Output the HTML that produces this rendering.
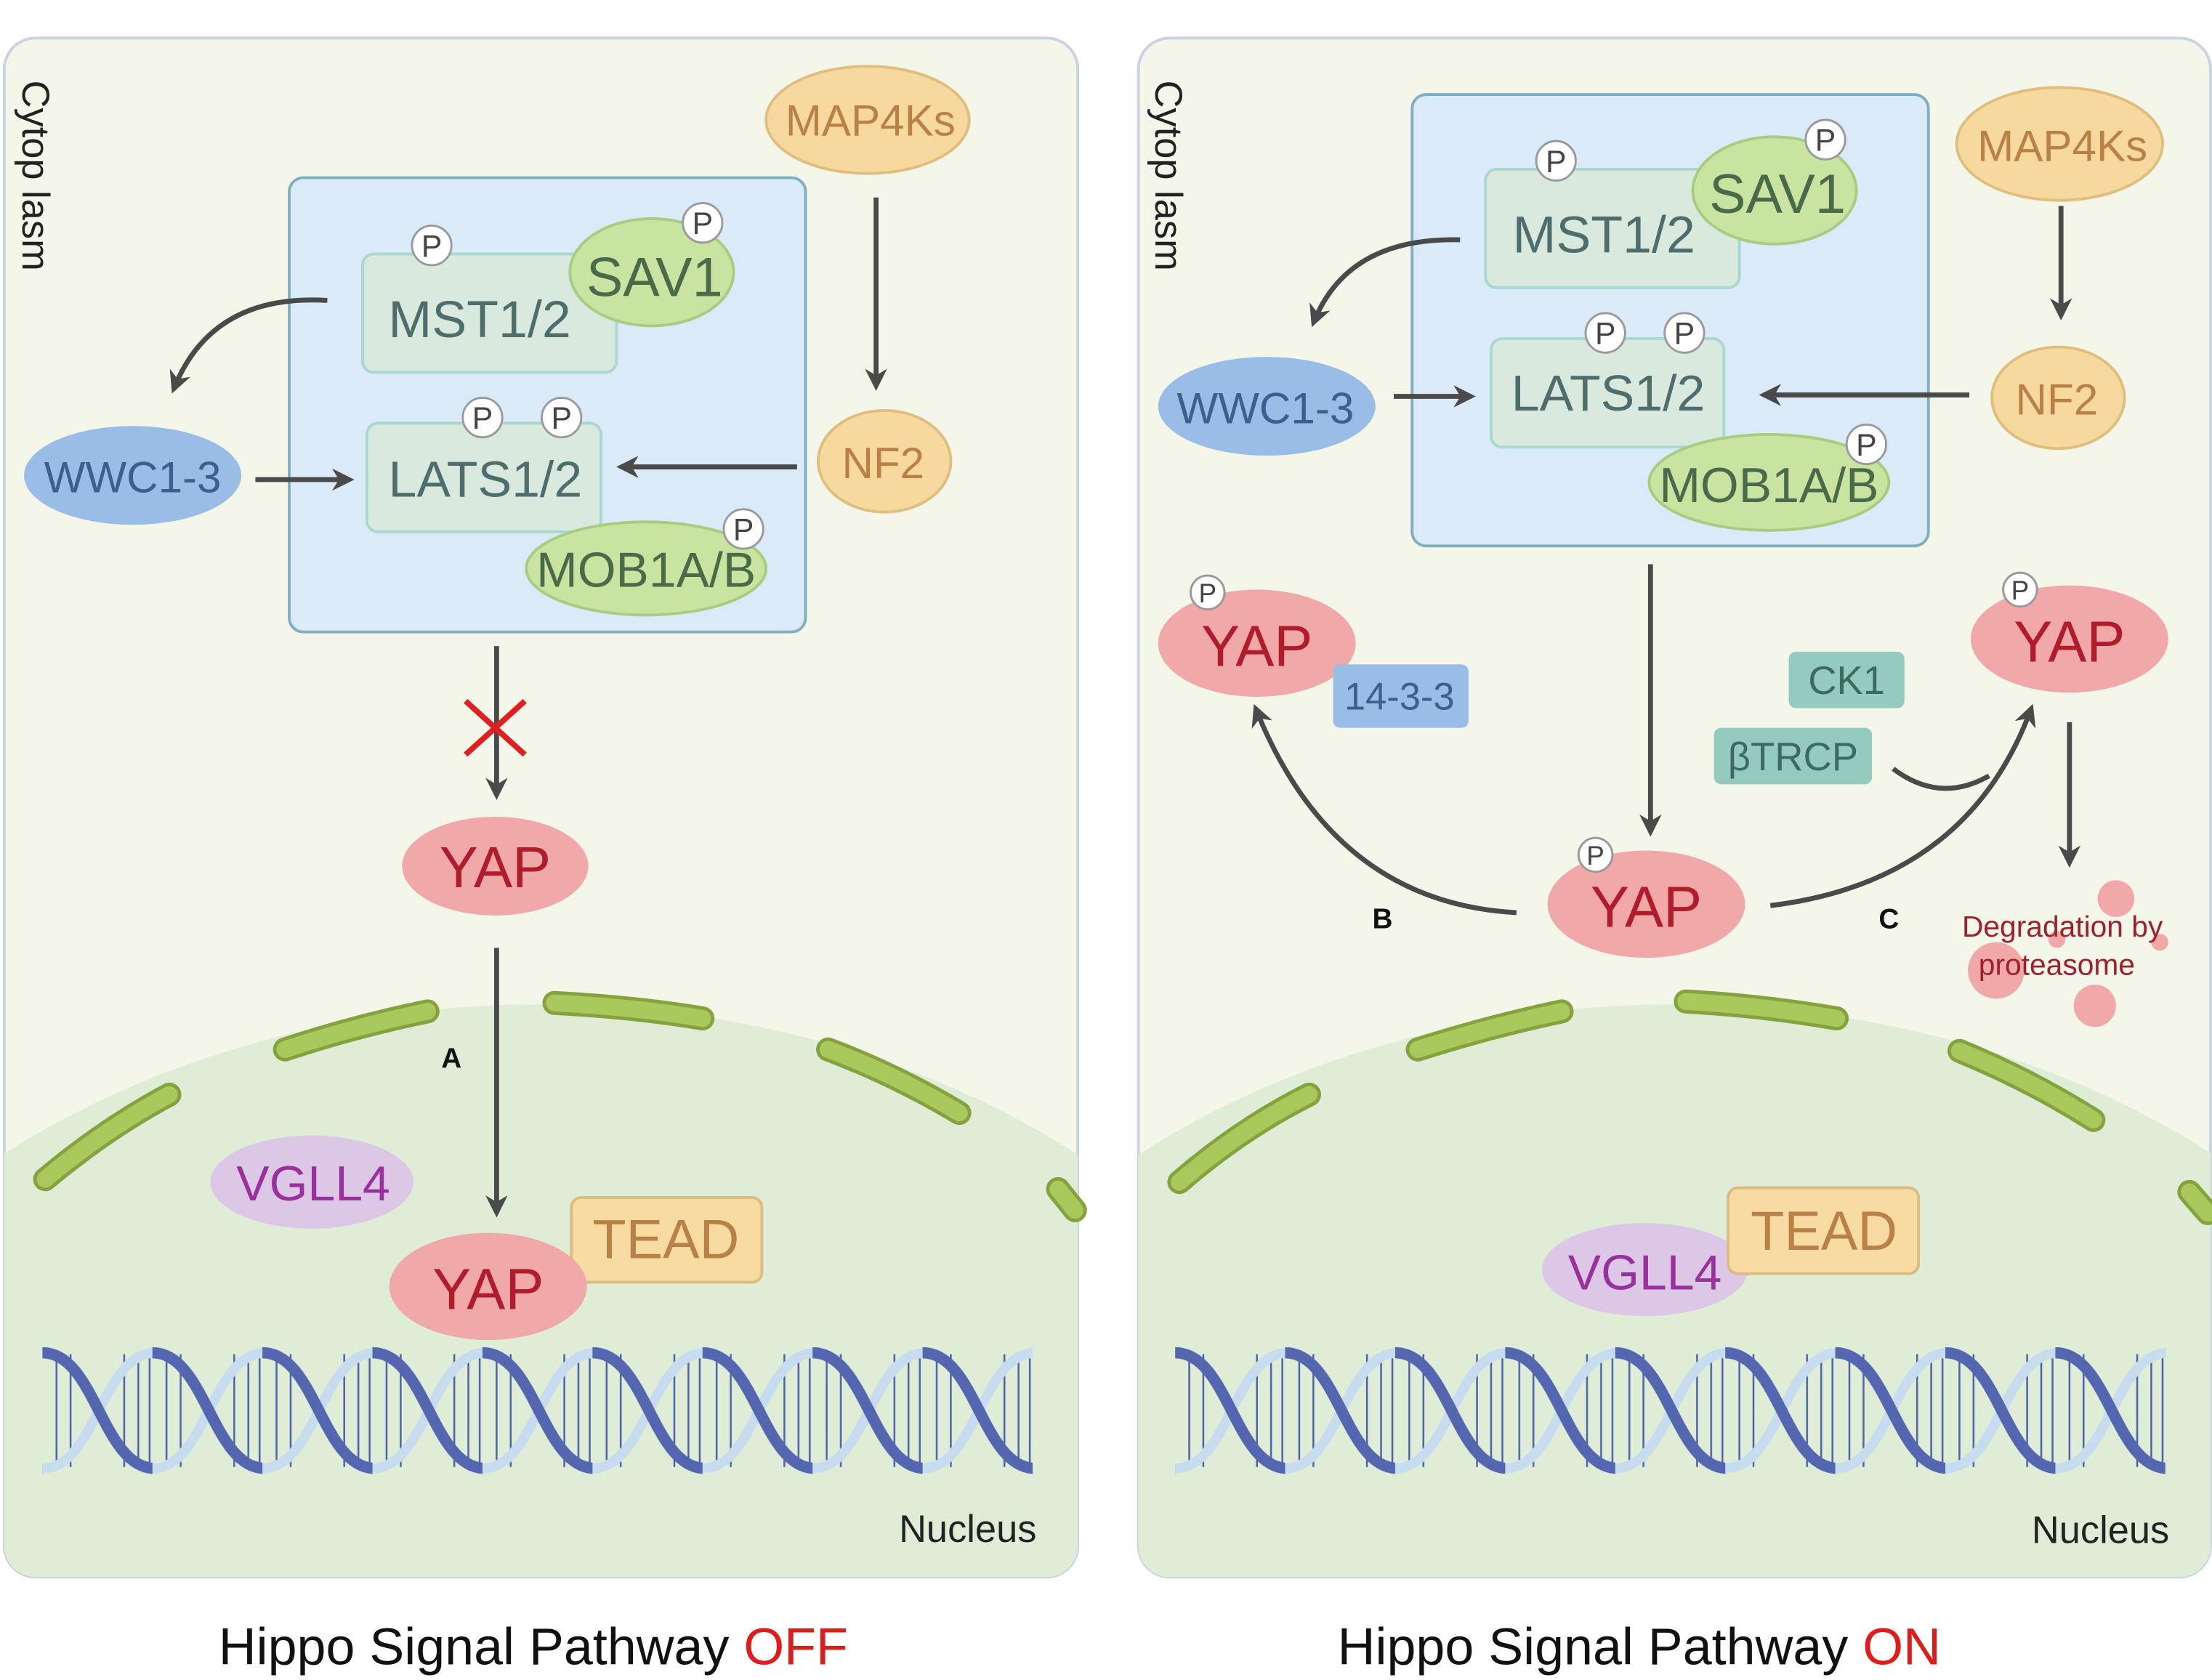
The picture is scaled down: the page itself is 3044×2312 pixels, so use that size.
<!DOCTYPE html>
<html><head><meta charset="utf-8"><style>html,body{margin:0;padding:0;background:#fff;overflow:hidden;width:3044px;height:2312px}svg{display:block}text{font-family:"Liberation Sans",sans-serif}</style></head><body>
<svg width="3044" height="2312" viewBox="0 0 1568 1191" xmlns="http://www.w3.org/2000/svg">
<defs>
<marker id="ah" viewBox="0 0 10 10" refX="8" refY="5" markerWidth="4.5" markerHeight="4.5" orient="auto-start-reverse"><path d="M0,0 L10,5 L0,10 L3,5z" fill="#4a4a4a"/></marker>
<clipPath id="cl"><rect x="3" y="27" width="761" height="1091" rx="22"/></clipPath>
<clipPath id="cr"><rect x="807" y="27" width="760" height="1091" rx="22"/></clipPath>
<g id="dnaunit">
<g stroke="#4f62ad" stroke-width="1.3"><line x1="10" y1="8" x2="10" y2="82"/><line x1="20" y1="5" x2="20" y2="85"/><line x1="58" y1="5" x2="58" y2="85"/><line x1="68" y1="5" x2="68" y2="85"/><line x1="76" y1="8" x2="76" y2="82"/></g>
<path d="M0,86 C38,86 42,4 80,4" stroke="#c7dcee" stroke-width="7" fill="none"/>
<path d="M0,4 C38,4 42,86 80,86" stroke="#5566b0" stroke-width="8" fill="none"/>
</g>
<pattern id="dnaL" x="30" y="955" width="78" height="90" patternUnits="userSpaceOnUse"><use href="#dnaunit"/></pattern>
<pattern id="dnaR" x="833" y="955" width="78" height="90" patternUnits="userSpaceOnUse"><use href="#dnaunit"/></pattern>
</defs>
<rect x="3" y="27" width="761" height="1091" rx="22" fill="#f3f6e8" stroke="#c9d4e0" stroke-width="2"/>
<rect x="807" y="27" width="760" height="1091" rx="22" fill="#f3f6e8" stroke="#c9d4e0" stroke-width="2"/>
<g clip-path="url(#cl)"><ellipse cx="383" cy="1180" rx="600" ry="468" fill="#dfedd6"/></g>
<g clip-path="url(#cr)"><ellipse cx="1188" cy="1180" rx="600" ry="468" fill="#dfedd6"/></g>
<g stroke-linecap="round" fill="none">
<g stroke="#86a23e" stroke-width="17">
<path d="M32,836 Q75,800 120,776"/><path d="M202,744 Q250,728 303,717"/><path d="M393,711 Q450,714 498,722"/><path d="M587,744 Q635,762 680,789"/><path d="M750,843 L762,858"/>
<path d="M836,838 Q880,800 928,776"/><path d="M1005,744 Q1055,728 1107,717"/><path d="M1195,710 Q1250,713 1302,722"/><path d="M1389,745 Q1440,766 1484,794"/><path d="M1552,845 L1565,860"/>
</g>
<g stroke="#a9c95d" stroke-width="12">
<path d="M32,836 Q75,800 120,776"/><path d="M202,744 Q250,728 303,717"/><path d="M393,711 Q450,714 498,722"/><path d="M587,744 Q635,762 680,789"/><path d="M750,843 L762,858"/>
<path d="M836,838 Q880,800 928,776"/><path d="M1005,744 Q1055,728 1107,717"/><path d="M1195,710 Q1250,713 1302,722"/><path d="M1389,745 Q1440,766 1484,794"/><path d="M1552,845 L1565,860"/>
</g>
</g>
<rect x="30" y="955" width="702" height="90" fill="url(#dnaL)"/>
<rect x="833" y="955" width="702" height="90" fill="url(#dnaR)"/>

<g font-size="27" fill="#222">
<text transform="translate(16,57) rotate(90)">Cytop lasm</text>
<text transform="translate(819,57) rotate(90)">Cytop lasm</text>
<text x="686" y="1093" text-anchor="middle">Nucleus</text>
<text x="1489" y="1094" text-anchor="middle">Nucleus</text>
</g>
<g font-size="37" fill="#111" text-anchor="middle">
<text x="378" y="1180">Hippo Signal Pathway <tspan fill="#e01b1b">OFF</tspan></text>
<text x="1162" y="1180">Hippo Signal Pathway <tspan fill="#e01b1b">ON</tspan></text>
</g>

<!-- LEFT -->
<rect x="205" y="126" width="366" height="322" rx="10" fill="#dbeaf8" stroke="#7eb0c0" stroke-width="2"/>
<rect x="257" y="180" width="180" height="84" rx="8" fill="#d9e9de" stroke="#a8d8d0" stroke-width="2"/>
<text x="340" y="239" font-size="37" fill="#4e6e6e" text-anchor="middle">MST1/2</text>
<ellipse cx="462" cy="193" rx="58" ry="38" fill="#c9e3a0" stroke="#a8cd80" stroke-width="2"/>
<text x="464" y="210" font-size="39" fill="#4a6a4a" text-anchor="middle">SAV1</text>
<rect x="260" y="300" width="166" height="77" rx="8" fill="#d9e9de" stroke="#a8d8d0" stroke-width="2"/>
<text x="344" y="352" font-size="36" fill="#4e6e6e" text-anchor="middle">LATS1/2</text>
<ellipse cx="458" cy="403" rx="85" ry="33" fill="#c9e3a0" stroke="#a8cd80" stroke-width="2"/>
<text x="458" y="416" font-size="35" fill="#4a6a4a" text-anchor="middle">MOB1A/B</text>
<ellipse cx="615" cy="85" rx="72" ry="38" fill="#f7d9a0" stroke="#e0be7e" stroke-width="2"/>
<text x="617" y="96" font-size="31" fill="#b98146" text-anchor="middle">MAP4Ks</text>
<ellipse cx="627" cy="327" rx="47" ry="36" fill="#f7d9a0" stroke="#e0be7e" stroke-width="2"/>
<text x="626" y="339" font-size="31" fill="#b98146" text-anchor="middle">NF2</text>
<ellipse cx="94" cy="337" rx="77" ry="35" fill="#99bde6"/>
<text x="94" y="349" font-size="31" fill="#3b5f8e" text-anchor="middle">WWC1-3</text>
<ellipse cx="351" cy="614" rx="66" ry="35" fill="#f0a8a8"/>
<text x="351" y="629" font-size="41" fill="#b11c2a" text-anchor="middle">YAP</text>
<ellipse cx="221" cy="838" rx="72" ry="33" fill="#dcc8e6"/>
<text x="222" y="851" font-size="35" fill="#9a2f9e" text-anchor="middle">VGLL4</text>
<rect x="405" y="849" width="135" height="60" rx="7" fill="#f7dba3" stroke="#dcbc80" stroke-width="2"/>
<text x="472" y="892" font-size="39" fill="#b98146" text-anchor="middle">TEAD</text>
<ellipse cx="346" cy="912" rx="70" ry="38" fill="#f0a8a8"/>
<text x="346" y="928" font-size="41" fill="#b11c2a" text-anchor="middle">YAP</text>
<text x="320" y="757" font-size="20" font-weight="bold" fill="#111" text-anchor="middle">A</text>

<!-- RIGHT -->
<rect x="1001" y="67" width="366" height="320" rx="10" fill="#dbeaf8" stroke="#7eb0c0" stroke-width="2"/>
<rect x="1053" y="120" width="180" height="84" rx="8" fill="#d9e9de" stroke="#a8d8d0" stroke-width="2"/>
<text x="1137" y="179" font-size="37" fill="#4e6e6e" text-anchor="middle">MST1/2</text>
<ellipse cx="1258" cy="135" rx="58" ry="38" fill="#c9e3a0" stroke="#a8cd80" stroke-width="2"/>
<text x="1260" y="151" font-size="39" fill="#4a6a4a" text-anchor="middle">SAV1</text>
<rect x="1057" y="240" width="165" height="77" rx="8" fill="#d9e9de" stroke="#a8d8d0" stroke-width="2"/>
<text x="1140" y="291" font-size="36" fill="#4e6e6e" text-anchor="middle">LATS1/2</text>
<ellipse cx="1254" cy="342" rx="85" ry="34" fill="#c9e3a0" stroke="#a8cd80" stroke-width="2"/>
<text x="1254" y="356" font-size="35" fill="#4a6a4a" text-anchor="middle">MOB1A/B</text>
<ellipse cx="1460" cy="102" rx="73" ry="40" fill="#f7d9a0" stroke="#e0be7e" stroke-width="2"/>
<text x="1462" y="114" font-size="31" fill="#b98146" text-anchor="middle">MAP4Ks</text>
<ellipse cx="1459" cy="282" rx="47" ry="36" fill="#f7d9a0" stroke="#e0be7e" stroke-width="2"/>
<text x="1458" y="294" font-size="31" fill="#b98146" text-anchor="middle">NF2</text>
<ellipse cx="898" cy="288" rx="77" ry="35" fill="#99bde6"/>
<text x="897" y="300" font-size="31" fill="#3b5f8e" text-anchor="middle">WWC1-3</text>
<ellipse cx="891" cy="456" rx="70" ry="38" fill="#f0a8a8"/>
<text x="891" y="472" font-size="41" fill="#b11c2a" text-anchor="middle">YAP</text>
<rect x="945" y="471" width="96" height="45" rx="5" fill="#99bde6"/>
<text x="992" y="503" font-size="27" fill="#3b5f8e" text-anchor="middle">14-3-3</text>
<rect x="1268" y="462" width="82" height="40" rx="5" fill="#95cbbf"/>
<text x="1309" y="492" font-size="28" fill="#3d6b60" text-anchor="middle">CK1</text>
<rect x="1215" y="516" width="112" height="40" rx="5" fill="#95cbbf"/>
<text x="1271" y="546" font-size="28" fill="#3d6b60" text-anchor="middle">βTRCP</text>
<ellipse cx="1467" cy="453" rx="70" ry="38" fill="#f0a8a8"/>
<text x="1467" y="469" font-size="41" fill="#b11c2a" text-anchor="middle">YAP</text>
<ellipse cx="1167" cy="641" rx="70" ry="38" fill="#f0a8a8"/>
<text x="1167" y="657" font-size="41" fill="#b11c2a" text-anchor="middle">YAP</text>
<text x="980" y="658" font-size="20" font-weight="bold" fill="#111" text-anchor="middle">B</text>
<text x="1339" y="658" font-size="20" font-weight="bold" fill="#111" text-anchor="middle">C</text>
<g fill="#f0a8a8"><circle cx="1500" cy="637" r="13"/><circle cx="1415" cy="688" r="20"/><circle cx="1485" cy="713" r="15"/><circle cx="1458" cy="666" r="6"/><circle cx="1531" cy="668" r="6"/></g>
<g font-size="21" fill="#a0202a" text-anchor="middle"><text x="1462" y="664">Degradation by</text><text x="1458" y="691">proteasome</text></g>
<ellipse cx="1166" cy="900" rx="73" ry="33" fill="#dcc8e6"/>
<text x="1166" y="914" font-size="35" fill="#9a2f9e" text-anchor="middle">VGLL4</text>
<rect x="1225" y="842" width="135" height="61" rx="7" fill="#f7dba3" stroke="#dcbc80" stroke-width="2"/>
<text x="1293" y="886" font-size="39" fill="#b98146" text-anchor="middle">TEAD</text>

<!-- arrows -->
<g stroke="#4a4a4a" stroke-width="3.5" fill="none" marker-end="url(#ah)">
<path d="M621,140 L621,274"/>
<path d="M181,340 L248,340"/>
<path d="M565,331 L440,331"/>
<path d="M232,213 Q150,208 123,276"/>
<path d="M352,458 L352,564"/>
<path d="M352,672 L352,860"/>
<path d="M1461,146 L1461,224"/>
<path d="M1396,280 L1250,280"/>
<path d="M988,281 L1043,281"/>
<path d="M1035,170 Q955,168 931,229"/>
<path d="M1170,400 L1170,590"/>
<path d="M1075,647 Q945,640 890,502"/>
<path d="M1255,642 Q1395,625 1440,502"/>
<path d="M1467,512 L1467,612"/>
</g>
<path d="M1342,545 Q1375,570 1410,550" stroke="#4a4a4a" stroke-width="3.5" fill="none"/>
<g stroke="#e02020" stroke-width="4"><line x1="330" y1="497" x2="372" y2="535"/><line x1="372" y1="497" x2="330" y2="535"/></g>

<!-- P circles -->
<g fill="#fff" stroke="#9a9a9a" stroke-width="1.5">
<circle cx="306" cy="174" r="14"/><circle cx="498" cy="158" r="14"/><circle cx="342" cy="296" r="14"/><circle cx="398" cy="296" r="14"/><circle cx="527" cy="375" r="14"/>
<circle cx="1103" cy="114" r="14"/><circle cx="1294" cy="99" r="14"/><circle cx="1138" cy="236" r="14"/><circle cx="1194" cy="236" r="14"/><circle cx="1323" cy="315" r="14"/>
<circle cx="856" cy="420" r="12"/><circle cx="1432" cy="418" r="12"/><circle cx="1131" cy="606" r="12"/>
</g>
<g font-size="22" fill="#444" text-anchor="middle">
<text x="306" y="182">P</text><text x="498" y="166">P</text><text x="342" y="304">P</text><text x="398" y="304">P</text><text x="527" y="383">P</text>
<text x="1103" y="122">P</text><text x="1294" y="107">P</text><text x="1138" y="244">P</text><text x="1194" y="244">P</text><text x="1323" y="323">P</text>
</g>
<g font-size="19" fill="#444" text-anchor="middle">
<text x="856" y="427">P</text><text x="1432" y="425">P</text><text x="1131" y="613">P</text>
</g>
</svg>
</body></html>
